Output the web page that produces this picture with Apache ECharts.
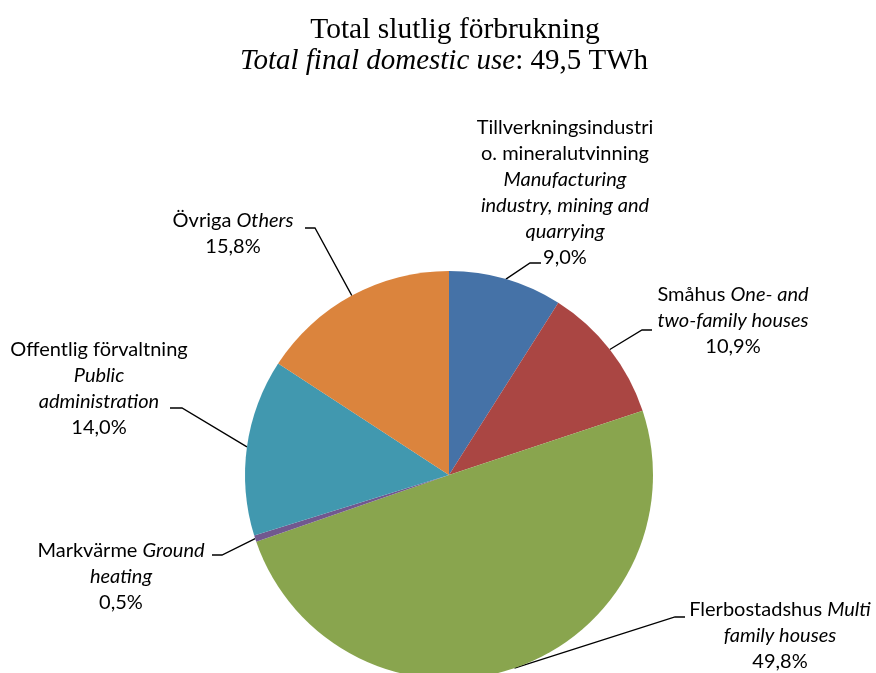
<!DOCTYPE html>
<html>
<head>
<meta charset="utf-8">
<script src="https://cdn.jsdelivr.net/npm/echarts@6/dist/echarts.min.js"></script>
<style>
html,body{margin:0;padding:0;background:#fff;}
#chart{width:876px;height:673px;}
</style>
</head>
<body>
<div id="chart"></div>
<script>
// ---- data ----
var categoriesSv = ['Tillverkningsindustri o. mineralutvinning', 'Småhus', 'Flerbostadshus', 'Markvärme', 'Offentlig förvaltning', 'Övriga'];
var categoriesEn = ['Manufacturing industry, mining and quarrying', 'One- and two-family houses', 'Multi family houses', 'Ground heating', 'Public administration', 'Others'];
var shares = [9.0, 10.9, 49.8, 0.5, 14.0, 15.8];
var colors = ['#4572A7', '#AA4643', '#89A54E', '#71588F', '#4198AF', '#DB843D'];
// label text lines as wrapped in the reference: [text, style] (n = normal, i = italic)
var labelLines = [
  [[['Tillverkningsindustri','n']], [['o. mineralutvinning','n']], [['Manufacturing','i']], [['industry, mining and','i']], [['quarrying','i']]],
  [[['Småhus ','n'],['One- and','i']], [['two-family houses','i']]],
  [[['Flerbostadshus ','n'],['Multi','i']], [['family houses','i']]],
  [[['Markvärme ','n'],['Ground','i']], [['heating','i']]],
  [[['Offentlig förvaltning','n']], [['Public','i']], [['administration','i']]],
  [[['Övriga ','n'],['Others','i']]]
];
var titleLine1 = 'Total slutlig förbrukning';
var titleLine2It = 'Total final domestic use';
var titleLine2Rest = ': 49,5 TWh';

// ---- layout (label placement, not data) ----
// cx, cy: text block centre; ax, ay: end of leader line at the label; stub: horizontal stub length/direction
var labelPlace = [
  {cx: 565, cy: 193, ax: 541, ay: 263, stub: -11},
  {cx: 733, cy: 321, ax: 652, ay: 330, stub: -10},
  {cx: 780, cy: 636, ax: 685, ay: 617, stub: -10},
  {cx: 121, cy: 577, ax: 212, ay: 555, stub: 10},
  {cx: 99,  cy: 389, ax: 170, ay: 408, stub: 12},
  {cx: 233, cy: 234, ax: 305, ay: 228, stub: 10}
];

function fmtPct(v) { return v.toFixed(1).replace('.', ',') + '%'; }

var chart = echarts.init(document.getElementById('chart'), null, {renderer: 'canvas'});

var seriesData = shares.map(function (v, i) {
  return {name: categoriesSv[i] + ' / ' + categoriesEn[i], value: v, itemStyle: {color: colors[i]}};
});

var labelFont = 'Lato, "Open Sans", sans-serif';
var serif = '"Liberation Serif", "Times New Roman", serif';

chart.setOption({
  animation: false,
  backgroundColor: '#ffffff',
  title: [
    {
      text: titleLine1,
      left: 455, top: 14, textAlign: 'center', padding: 0,
      textStyle: {fontFamily: serif, fontSize: 29.5, fontWeight: 'normal', color: '#000', lineHeight: 32}
    },
    {
      text: '{i|' + titleLine2It + '}{n|' + titleLine2Rest + '}',
      left: 444, top: 45, textAlign: 'center', padding: 0,
      textStyle: {
        fontFamily: serif, fontSize: 29, fontWeight: 'normal', color: '#000', lineHeight: 32,
        rich: {
          i: {fontFamily: serif, fontSize: 29, fontStyle: 'italic', color: '#000', lineHeight: 32},
          n: {fontFamily: serif, fontSize: 29, color: '#000', lineHeight: 32}
        }
      }
    }
  ],
  series: [{
    type: 'pie',
    center: [449, 475],
    radius: 204,
    startAngle: 90,
    clockwise: true,
    avoidLabelOverlap: false,
    data: seriesData,
    itemStyle: {borderWidth: 0},
    emphasis: {disabled: true},
    label: {
      show: true,
      position: 'outside',
      formatter: function (p) {
        var lines = labelLines[p.dataIndex].map(function (parts) {
          return parts.map(function (pt) { return '{' + pt[1] + '|' + pt[0] + '}'; }).join('');
        });
        lines.push('{n|' + fmtPct(p.value) + '}');
        return lines.join('\n');
      },
      fontFamily: labelFont,
      fontSize: 20,
      color: '#000',
      lineHeight: 26,
      align: 'center',
      rich: {
        n: {fontFamily: labelFont, fontSize: 20, color: '#000', lineHeight: 26, align: 'center'},
        i: {fontFamily: labelFont, fontSize: 20, color: '#000', fontStyle: 'italic', lineHeight: 26, align: 'center'}
      }
    },
    labelLine: {
      show: true,
      length: 20,
      length2: 10,
      lineStyle: {color: '#000', width: 1.3}
    },
    labelLayout: function (params) {
      var lp = labelPlace[params.dataIndex];
      var arc = params.labelLinePoints ? params.labelLinePoints[0] : [lp.ax, lp.ay];
      return {
        x: lp.cx,
        y: lp.cy,
        align: 'center',
        verticalAlign: 'middle',
        labelLinePoints: [arc, [lp.ax + lp.stub, lp.ay], [lp.ax, lp.ay]]
      };
    }
  }]
});
</script>
</body>
</html>
